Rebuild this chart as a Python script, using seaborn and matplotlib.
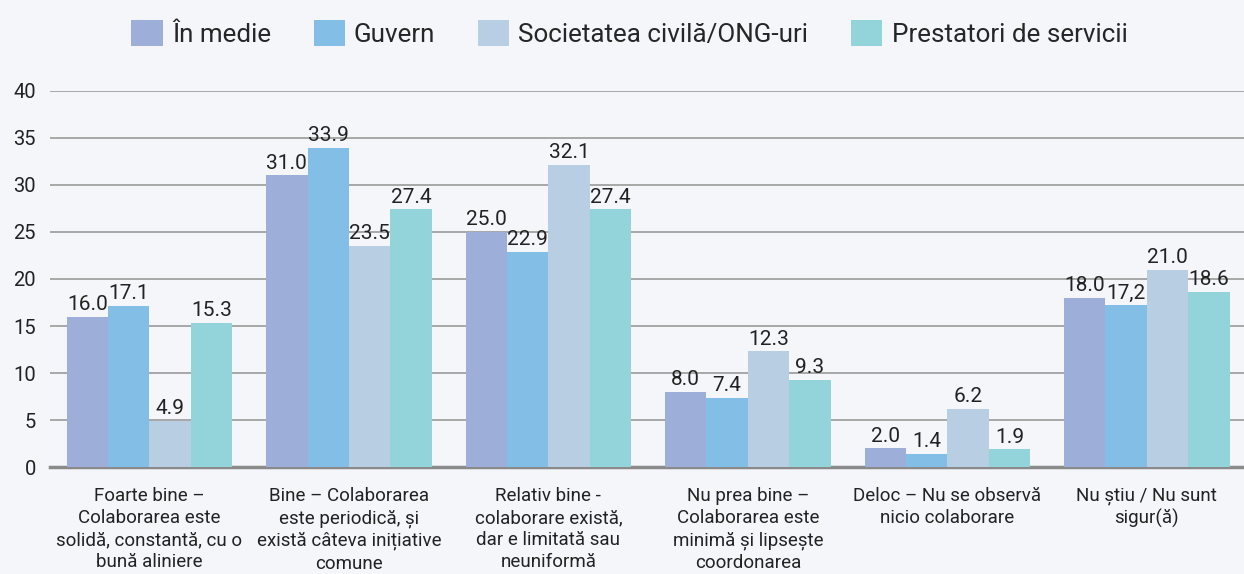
import pandas as pd
import matplotlib.pyplot as plt
import seaborn as sns

categories = [
    "Foarte bine –\nColaborarea este\nsolidă, constantă, cu o\nbună aliniere",
    "Bine – Colaborarea\neste periodică, și\nexistă câteva inițiative\ncomune",
    "Relativ bine -\ncolaborare există,\ndar e limitată sau\nneuniformă",
    "Nu prea bine –\nColaborarea este\nminimă și lipsește\ncoordonarea",
    "Deloc – Nu se observă\nnicio colaborare",
    "Nu știu / Nu sunt\nsigur(ă)",
]
series = ["În medie", "Guvern", "Societatea civilă/ONG-uri", "Prestatori de servicii"]
in_medie = [16.0, 31.0, 25.0, 8.0, 2.0, 18.0]
guvern = [17.1, 33.9, 22.9, 7.4, 1.4, 17.2]
societate = [4.9, 23.5, 32.1, 12.3, 6.2, 21.0]
prestatori = [15.3, 27.4, 27.4, 9.3, 1.9, 18.6]
# the source prints this one label with a comma
label_override = {(1, 5): "17,2"}

colors = ["#9daed9", "#82bee6", "#b8cfe3", "#93d4da"]
bg = "#f4f6fa"

rows = []
for s, vals in zip(series, [in_medie, guvern, societate, prestatori]):
    for c, v in zip(categories, vals):
        rows.append({"cat": c, "series": s, "value": v})
df = pd.DataFrame(rows)

sns.set_style("white")
plt.rcParams["font.family"] = ["Roboto", "DejaVu Sans"]

fig = plt.figure(figsize=(12.44, 5.74), dpi=100, facecolor=bg)
ax = fig.add_axes([0.040, 0.186, 0.962, 0.656])
ax.set_facecolor(bg)

sns.barplot(data=df, x="cat", y="value", hue="series", palette=colors,
            width=0.83, gap=0, saturation=1, edgecolor="none", ax=ax, zorder=3)

for i, cont in enumerate(ax.containers):
    labels = [label_override.get((i, j), f"{b.get_height():.1f}")
              for j, b in enumerate(cont)]
    ax.bar_label(cont, labels=labels, padding=2, fontsize=15, color="#222222")

ax.set_ylim(0, 40)
ax.set_xlim(-0.5, 5.5)
ax.set_yticks(range(0, 41, 5))
ax.yaxis.grid(True, color="#9a9a9a", linewidth=1.2, zorder=0)
ax.set_axisbelow(True)
for side in ["left", "right", "top"]:
    ax.spines[side].set_visible(False)
ax.spines["bottom"].set_color("#8a8a8a")
ax.spines["bottom"].set_linewidth(2.5)
ax.tick_params(axis="y", length=0, labelsize=14.5, labelcolor="#222222", pad=10)
ax.tick_params(axis="x", length=0, labelsize=13.5, labelcolor="#222222", pad=14)
for t in ax.get_xticklabels():
    t.set_linespacing(1.3)
ax.set_xlabel("")
ax.set_ylabel("")

handles, lbls = ax.get_legend_handles_labels()
ax.legend_.remove()
fig.legend(handles, lbls, loc="center", bbox_to_anchor=(0.506, 0.942), ncol=4,
           frameon=False, fontsize=18.7, handlelength=1.2, handleheight=1.2,
           handletextpad=0.35, columnspacing=1.65)

fig.savefig("out.png", dpi=100, facecolor=bg)
